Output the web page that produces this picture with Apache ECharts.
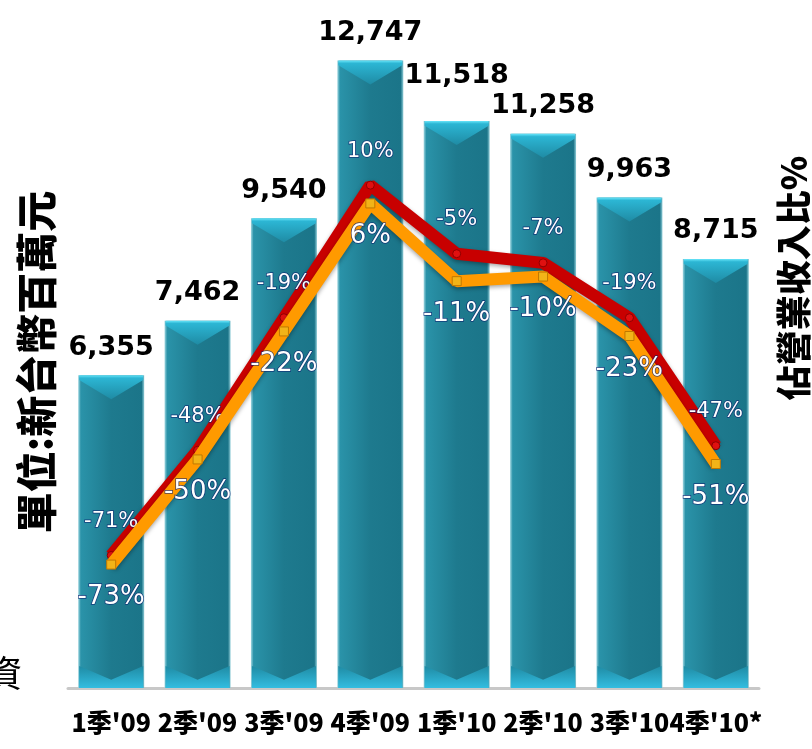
<!DOCTYPE html>
<html><head><meta charset="utf-8">
<script src="https://cdn.jsdelivr.net/npm/echarts@6/dist/echarts.min.js"></script>
<style>html,body{margin:0;padding:0;background:#fff}#c{width:812px;height:749px}</style>
</head><body><div id="c"></div>
<script>
const categories = ["1季'09", "2季'09", "3季'09", "4季'09", "1季'10", "2季'10", "3季'10", "4季'10*"];
const revenue = [6355, 7462, 9540, 12747, 11518, 11258, 9963, 8715];
const ratioRed = [-71, -48, -19, 10, -5, -7, -19, -47];
const ratioOrange = [-73, -50, -22, 6, -11, -10, -23, -51];
const leftTitle = '單位:新台幣百萬元';
const rightTitle = '佔營業收入比%';

const chart = echarts.init(document.getElementById('c'));
const numFont = 'DejaVu Sans';
const cjkFont = '"Noto Sans CJK TC", "Noto Sans CJK SC", sans-serif';

const barData = revenue.map((v, i) => i === 4 ? {value: v, label: {distance: 31}} : v);

chart.setOption({
  animation: false,
  grid: {left: 68, right: 53, top: 48, bottom: 61},
  xAxis: {
    type: 'category', data: categories,
    axisLine: {lineStyle: {color: '#c8c8c8', width: 3}},
    axisTick: {show: false},
    axisLabel: {interval: 0, hideOverlap: false, margin: 22, color: '#000', fontSize: 25, fontWeight: 900, fontFamily: cjkFont}
  },
  yAxis: [
    {type: 'value', min: 0, max: 13000, show: false, splitLine: {show: false}},
    {type: 'value', min: -100, max: 40, show: false, splitLine: {show: false}}
  ],
  series: [
    {
      type: 'bar', data: barData, barWidth: 66, z: 2,
      itemStyle: {
        color: new echarts.graphic.LinearGradient(0, 0, 1, 0, [
          {offset: 0, color: '#9fd6e0'}, {offset: 0.04, color: '#2a93a9'},
          {offset: 0.5, color: '#1e7a8e'}, {offset: 0.96, color: '#1b7589'}, {offset: 1, color: '#8ecbd6'}
        ])
      },
      label: {
        show: true, position: 'top', distance: 14, color: '#000',
        fontFamily: numFont, fontWeight: 'bold', fontSize: 27,
        formatter: p => p.value.toLocaleString('en-US')
      }
    },
    {
      type: 'pictorialBar', data: revenue, z: 3,
      symbol: 'path://M0,0 L100,0 L100,20 L50,100 L0,20 Z',
      symbolSize: [64, 24], symbolPosition: 'end', symbolOffset: [0, 0],
      itemStyle: {color: new echarts.graphic.LinearGradient(0, 0, 0, 1, [
        {offset: 0, color: '#6ae6fa'}, {offset: 0.12, color: '#2cb6d4'}, {offset: 1, color: '#1f8ba4'}
      ])},
      silent: true
    },
    {
      type: 'pictorialBar', data: revenue, z: 3,
      symbol: 'path://M0,100 L100,100 L100,20 L50,70 L0,20 Z',
      symbolSize: [64, 22], symbolPosition: 'start', symbolOffset: [0, 0],
      itemStyle: {color: new echarts.graphic.LinearGradient(0, 0, 0, 1, [
        {offset: 0, color: '#1f8ba4'}, {offset: 1, color: '#33bde0'}
      ])},
      silent: true
    },
    {
      type: 'line', yAxisIndex: 1, data: ratioRed, z: 5,
      lineStyle: {color: '#c80000', width: 12, shadowColor: 'rgba(0,0,0,0.35)', shadowBlur: 4, shadowOffsetY: 2},
      symbol: 'circle', symbolSize: 8,
      itemStyle: {color: '#e01010', borderColor: '#900000', borderWidth: 1},
      label: {
        show: true, position: 'top', distance: 19, color: '#fff',
        fontFamily: numFont, fontSize: 21,
        textBorderColor: 'rgba(10,30,110,0.75)', textBorderWidth: 1.5,
        formatter: p => p.value + '%'
      }
    },
    {
      type: 'line', yAxisIndex: 1, data: ratioOrange, z: 6,
      lineStyle: {color: '#ff9a00', width: 12, shadowColor: 'rgba(0,0,0,0.35)', shadowBlur: 4, shadowOffsetY: 2},
      symbol: 'rect', symbolSize: 9,
      itemStyle: {color: '#f2b418', borderColor: '#c07800', borderWidth: 1},
      label: {
        show: true, position: 'bottom', distance: 15, color: '#fff',
        fontFamily: numFont, fontSize: 26,
        textBorderColor: 'rgba(10,30,110,0.75)', textBorderWidth: 1.5,
        formatter: p => p.value + '%'
      }
    }
  ],
  graphic: [
    {type: 'text', x: 36, y: 362, rotation: Math.PI / 2,
     style: {text: leftTitle, fill: '#000', font: '900 41px ' + cjkFont, textAlign: 'center', textVerticalAlign: 'middle'}},
    {type: 'text', x: 794, y: 278, rotation: Math.PI / 2,
     style: {text: rightTitle, fill: '#000', font: '900 35px ' + cjkFont, textAlign: 'center', textVerticalAlign: 'middle'}},
    {type: 'text', x: -14, y: 655,
     style: {text: '資', fill: '#000', font: '400 36px ' + cjkFont}}
  ]
});
</script></body></html>
